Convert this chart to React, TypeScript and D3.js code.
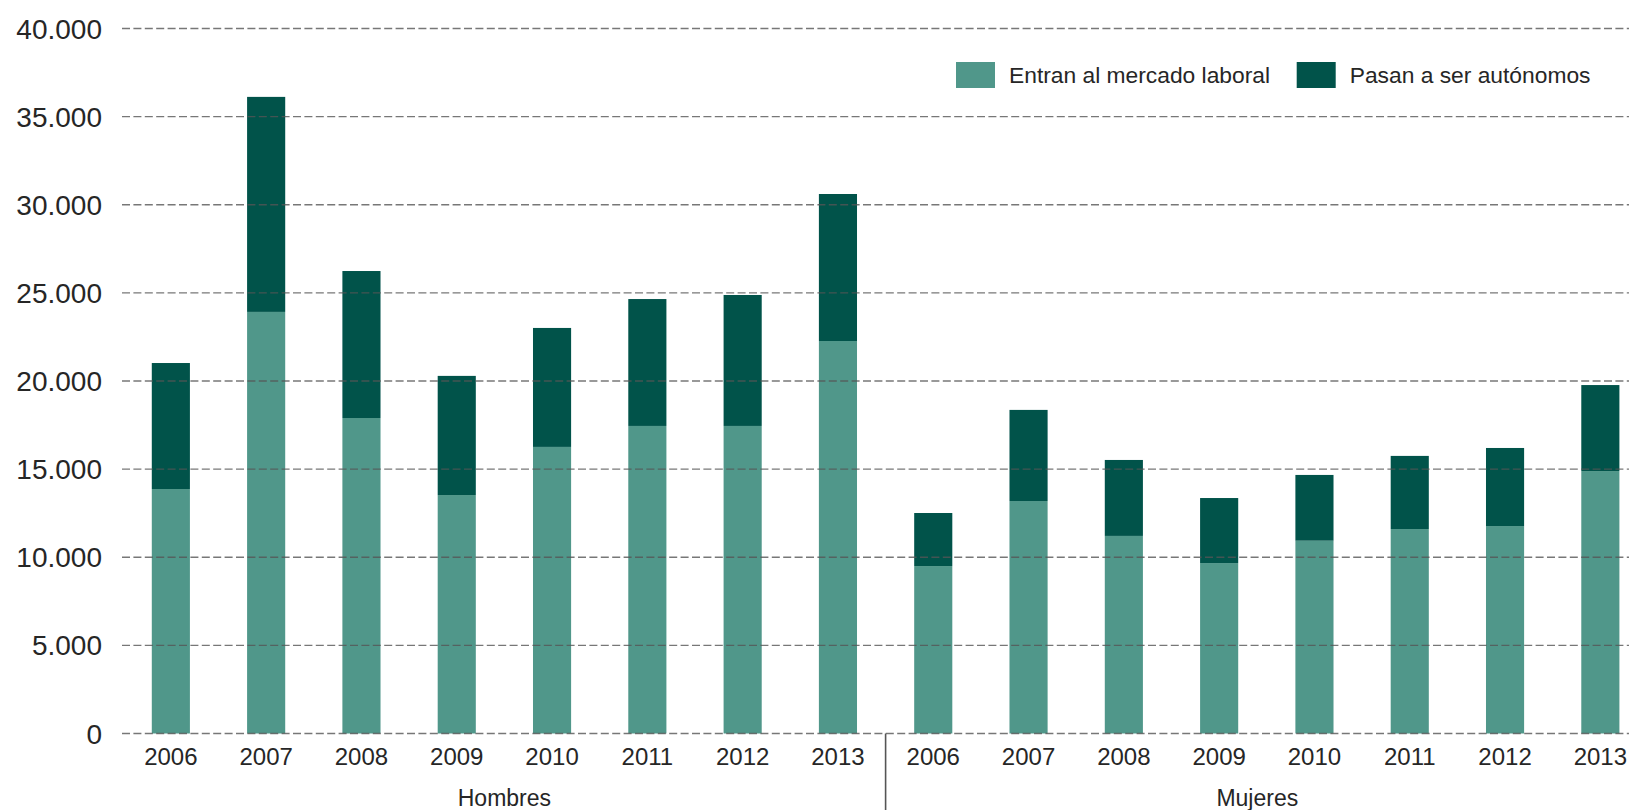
import React from "react";
import * as d3 from "d3";

const years = ["2006", "2007", "2008", "2009", "2010", "2011", "2012", "2013"];
const groups = ["Hombres", "Mujeres"];
const seriesNames = ["Entran al mercado laboral", "Pasan a ser autónomos"];
const hombresEntran = [13870, 23920, 17900, 13530, 16260, 17450, 17450, 22270];
const hombresPasan = [7150, 12200, 8340, 6760, 6750, 7200, 7430, 8340];
const mujeresEntran = [9500, 13190, 11210, 9670, 10940, 11600, 11770, 14890];
const mujeresPasan = [3010, 5170, 4310, 3690, 3730, 4150, 4430, 4880];
const yTicks = [0, 5000, 10000, 15000, 20000, 25000, 30000, 35000, 40000];

const W = 1629;
const H = 810;
const colors = ["#50978a", "#01534a"];
const font = "'Liberation Sans', Arial, sans-serif";

export default function App() {
  const rows = [
    ...years.map((y, i) => ({ key: "H" + y, year: y, group: groups[0], entran: hombresEntran[i], pasan: hombresPasan[i] })),
    ...years.map((y, i) => ({ key: "M" + y, year: y, group: groups[1], entran: mujeresEntran[i], pasan: mujeresPasan[i] })),
  ];
  const step = 95.3;
  const x0 = 123.2;
  const x = d3
    .scaleBand<string>()
    .domain(rows.map((r) => r.key))
    .range([x0, x0 + step * rows.length])
    .paddingInner(0.6)
    .paddingOuter(0.3);
  const y = d3.scaleLinear().domain([0, 40000]).range([733.5, 28.5]);
  const stack = d3.stack<any>().keys(["entran", "pasan"]);
  const stacked = stack(rows);
  const locale = d3.formatLocale({ decimal: ",", thousands: ".", grouping: [3], currency: ["", "€"] });
  const fmt = locale.format(",d");
  const sepX = x0 + step * years.length;

  return (
    <svg width={W} height={H} style={{ position: "absolute", left: 0, top: 0, background: "#fff" }}>
      {stacked.map((s, si) => (
        <g key={si} fill={colors[si]}>
          {s.map((d, i) => (
            <rect
              key={i}
              x={x(rows[i].key)}
              width={x.bandwidth()}
              y={y(d[1])}
              height={y(d[0]) - y(d[1])}
            />
          ))}
        </g>
      ))}
      {yTicks.map((t) => (
        <g key={t}>
          <line x1={122} x2={W} y1={y(t)} y2={y(t)} stroke="#555" strokeOpacity={0.8} strokeWidth={1.3} strokeDasharray="8,3.4" />
          <text x={102} y={y(t)} dy="0.36em" textAnchor="end" fontFamily={font} fontSize={28} fill="#262626">
            {fmt(t)}
          </text>
        </g>
      ))}
      {rows.map((r) => (
        <text
          key={r.key}
          x={(x(r.key) as number) + x.bandwidth() / 2}
          y={765}
          textAnchor="middle"
          fontFamily={font}
          fontSize={24}
          fill="#262626"
        >
          {r.year}
        </text>
      ))}
      <line x1={sepX} x2={sepX} y1={y(0)} y2={H} stroke="#555" strokeWidth={1.6} />
      <text x={(x0 + sepX) / 2} y={806} textAnchor="middle" fontFamily={font} fontSize={23} fill="#262626">
        {groups[0]}
      </text>
      <text x={(sepX + W) / 2} y={806} textAnchor="middle" fontFamily={font} fontSize={23} fill="#262626">
        {groups[1]}
      </text>
      {seriesNames.map((n, i) => {
        const lx = [956, 1296.7][i];
        return (
          <g key={n}>
            <rect x={lx} y={62} width={39} height={26} fill={colors[i]} />
            <text x={lx + 53} y={83.3} fontFamily={font} fontSize={22.8} fill="#262626">
              {n}
            </text>
          </g>
        );
      })}
    </svg>
  );
}
